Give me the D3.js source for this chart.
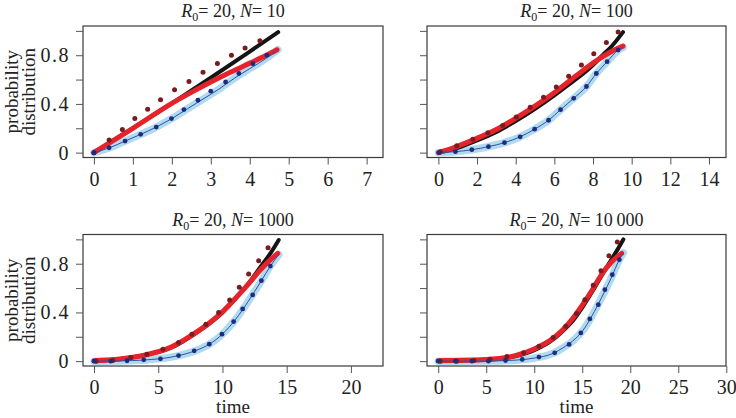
<!DOCTYPE html>
<html><head><meta charset="utf-8">
<script src="https://cdn.jsdelivr.net/npm/d3@7"></script>
<style>
html,body{margin:0;padding:0;background:#fff;}
svg text{font-family:"Liberation Serif","Times New Roman",Times,serif;fill:#222;}
</style></head>
<body><svg id="chart" width="736" height="418"></svg>
<script>
// ---- data (time, probability) ----
const titlesN = ["10", "100", "1000", "10\u2009000"];
const R0 = "20";
const xTicks = [[0,1,2,3,4,5,6,7],[0,2,4,6,8,10,12,14],[0,5,10,15,20],[0,5,10,15,20,25,30]];
const xDomains = [[-0.28,7.42],[-0.59,14.88],[-0.86,22.5],[-1.17,29.97]];
const yTicks = [0,0.2,0.4,0.6,0.8,1.0];
const yLabels = ["0","0.4","0.8"];

// N = 10
const n10Black = [[0,0],[1,0.2],[2,0.405],[3,0.615],[4,0.83],[4.73,0.99]];
const n10Red = [[0,0],[1,0.2],[2,0.405],[2.5,0.495],[3,0.58],[3.5,0.66],[4,0.735],[4.4,0.795],[4.7,0.845]];
const n10Blue = [[0,0],[0.4,0.04],[0.8,0.095],[1.2,0.15],[1.6,0.21],[2,0.28],[2.4,0.36],[2.8,0.44],[3.2,0.52],[3.6,0.61],[4,0.69],[4.4,0.77],[4.72,0.845]];
const n10RedDots = [[0,0],[0.39,0.103],[0.73,0.19],[1.05,0.28],[1.38,0.356],[1.71,0.435],[2.07,0.517],[2.44,0.585],[2.8,0.66],[3.17,0.733],[3.53,0.8],[3.88,0.86],[4.26,0.918]];
const n10BlueDots = [[0,0],[0.39,0.04],[0.8,0.095],[1.2,0.15],[1.6,0.21],[1.99,0.28],[2.31,0.354],[2.67,0.43],[3.0,0.505],[3.38,0.58],[3.72,0.65],[4.08,0.73],[4.44,0.8]];

// N = 100
const n100Black = [[0,0],[1,0.04],[2,0.1],[3,0.17],[4,0.26],[5,0.36],[6,0.47],[7,0.59],[7.5,0.65],[8,0.72],[8.5,0.8],[9,0.88],[9.55,0.99]];
const n100Red = [[0,0],[0.95,0.05],[1.99,0.117],[3,0.19],[4.03,0.285],[5.07,0.39],[6.1,0.505],[7.14,0.633],[8.18,0.755],[9.0,0.835],[9.55,0.875]];
const n100Blue = [[0,0],[0.88,0.008],[1.73,0.024],[2.59,0.049],[3.42,0.082],[4.23,0.13],[4.98,0.193],[5.7,0.266],[6.32,0.353],[7.0,0.446],[7.66,0.543],[8.17,0.65],[8.73,0.747],[9.3,0.842],[9.55,0.864]];
const n100RedDots = [[0.1,0.008],[0.95,0.057],[1.78,0.109],[2.56,0.163],[3.33,0.223],[4.03,0.293],[4.75,0.372],[5.44,0.454],[6.1,0.538],[6.74,0.628],[7.4,0.72],[8.04,0.8125],[8.69,0.905],[9.3,0.99]];
const n100BlueDots = [[0.04,0],[0.88,0.008],[1.73,0.024],[2.59,0.049],[3.42,0.082],[4.23,0.13],[4.98,0.193],[5.7,0.266],[6.32,0.353],[7.0,0.446],[7.66,0.543],[8.17,0.65],[8.73,0.747],[9.3,0.842]];

// N = 1000
const n1000Black = [[0,0.003],[2,0.018],[4,0.05],[6,0.11],[8,0.235],[9,0.31],[10,0.4],[11,0.51],[12,0.635],[13,0.78],[13.7,0.88],[14.38,0.995]];
const n1000Red = [[0,0.003],[2,0.018],[4,0.05],[6,0.115],[8,0.24],[9,0.315],[10,0.405],[11,0.515],[12,0.63],[13,0.755],[13.7,0.83],[14.3,0.885]];
const n1000Blue = [[0,0],[2,0.002],[4,0.01],[6,0.033],[8,0.09],[9,0.14],[10,0.222],[11,0.34],[12,0.49],[13,0.655],[13.73,0.781],[14.38,0.875]];
const n1000RedDots = [[0.16,0],[1.46,0.005],[2.86,0.03],[4.11,0.057],[5.36,0.098],[6.58,0.153],[7.62,0.221],[8.71,0.303],[9.7,0.399],[10.56,0.503],[11.31,0.607],[12.04,0.716],[12.82,0.825],[13.55,0.932]];
const n1000BlueDots = [[0,0],[1.3,0],[2.57,0.003],[3.87,0.011],[5.17,0.019],[6.58,0.046],[7.8,0.085],[8.97,0.139],[9.96,0.221],[10.87,0.325],[11.57,0.429],[12.35,0.544],[13.03,0.661],[13.73,0.781]];

// N = 10000
const n10000Black = [[0,0.003],[5,0.012],[8,0.04],[10,0.09],[12,0.18],[13,0.25],[14,0.33],[15,0.44],[16,0.565],[17,0.7],[18,0.83],[18.7,0.92],[19.28,1.0]];
const n10000Red = [[0,0.003],[5,0.013],[8,0.045],[10,0.1],[12,0.19],[13,0.26],[14,0.35],[15,0.46],[16,0.58],[17,0.71],[18,0.81],[19.1,0.885]];
const n10000Blue = [[0,0],[5,0.001],[8,0.008],[10,0.025],[12,0.065],[13,0.11],[14,0.165],[15,0.245],[16,0.37],[17,0.52],[18,0.68],[18.86,0.833],[19.28,0.888]];
const n10000RedDots = [[0.21,0],[1.92,0],[3.7,0.005],[5.4,0.016],[7.15,0.038],[8.89,0.068],[10.49,0.123],[11.96,0.194],[13.28,0.287],[14.4,0.391],[15.27,0.505],[16.14,0.623],[16.95,0.743],[17.78,0.866],[18.65,0.978]];
const n10000BlueDots = [[0,0],[1.78,0],[3.52,0],[5.23,0],[7.01,0.005],[8.75,0.014],[10.49,0.033],[12.13,0.068],[13.63,0.137],[14.85,0.232],[15.79,0.347],[16.67,0.464],[17.36,0.587],[18.13,0.71],[18.86,0.833]];

const panelsData = [
  {black:n10Black, red:n10Red, blue:n10Blue, redDots:n10RedDots, blueDots:n10BlueDots},
  {black:n100Black, red:n100Red, blue:n100Blue, redDots:n100RedDots, blueDots:n100BlueDots},
  {black:n1000Black, red:n1000Red, blue:n1000Blue, redDots:n1000RedDots, blueDots:n1000BlueDots},
  {black:n10000Black, red:n10000Red, blue:n10000Blue, redDots:n10000RedDots, blueDots:n10000BlueDots}
];

// ---- layout ----
const boxes = [
  {x0:83, x1:383, y0:26, y1:157.5},
  {x0:427, x1:726, y0:26, y1:157.5},
  {x0:83, x1:383, y0:234.5, y1:366},
  {x0:427, x1:726, y0:234.5, y1:366}
];
const FONT = "'Liberation Serif','Times New Roman',Times,serif";
const FS_TICK = 20, FS_TITLE = 18, FS_LAB = 19;
const svg = d3.select("#chart");
const C = {black:"#151515", red:"#e6232a", lblue:"#b0daee", dblue:"#3050a8", redDot:"#7a1c1f", blueDot:"#1d2b80", axis:"#555"};

panelsData.forEach((d,i)=>{
  const b = boxes[i];
  const x = d3.scaleLinear().domain(xDomains[i]).range([b.x0,b.x1]);
  const y = d3.scaleLinear().domain([-0.04,1.04]).range([b.y1,b.y0]);
  const g = svg.append("g");
  const line = d3.line().x(p=>x(p[0])).y(p=>y(p[1])).curve(d3.curveMonotoneX);

  g.append("path").attr("d",line(d.blue)).attr("fill","none").attr("stroke",C.lblue).attr("stroke-width",7.5).attr("stroke-linecap","round");
  g.append("path").attr("d",line(d.black)).attr("fill","none").attr("stroke",C.black).attr("stroke-width",4).attr("stroke-linecap","round");
  g.append("path").attr("d",line(d.red)).attr("fill","none").attr("stroke",C.red).attr("stroke-width",5).attr("stroke-linecap","round");
  g.append("path").attr("d",line(d.blue)).attr("fill","none").attr("stroke",C.dblue).attr("stroke-width",1);
  g.selectAll(".rd").data(d.redDots).enter().append("circle").attr("cx",p=>x(p[0])).attr("cy",p=>y(p[1])).attr("r",2.5).attr("fill",C.redDot);
  g.selectAll(".bd").data(d.blueDots).enter().append("circle").attr("cx",p=>x(p[0])).attr("cy",p=>y(p[1])).attr("r",2.4).attr("fill",C.blueDot);

  // box
  g.append("rect").attr("x",b.x0).attr("y",b.y0).attr("width",b.x1-b.x0).attr("height",b.y1-b.y0)
    .attr("fill","none").attr("stroke","#3a3a3a").attr("stroke-width",1.2);

  // x axis
  const xa = d3.axisBottom(x).tickValues(xTicks[i]).tickSize(7).tickSizeOuter(0).tickPadding(7).tickFormat(d3.format("d"));
  const gx = g.append("g").attr("transform",`translate(0,${b.y1})`).call(xa);
  gx.attr("font-family",FONT).attr("font-size",FS_TICK);
  gx.select(".domain").remove();
  gx.selectAll("line").attr("stroke",C.axis);
  gx.selectAll("text").attr("fill","#222");

  // y axis
  const ya = d3.axisLeft(y).tickValues(yTicks).tickSize(7).tickSizeOuter(0).tickPadding(6)
    .tickFormat(v => (i%2===0 && yLabels.includes(d3.format("~g")(v))) ? d3.format("~g")(v) : "");
  const gy = g.append("g").attr("transform",`translate(${b.x0},0)`).call(ya);
  gy.attr("font-family",FONT).attr("font-size",FS_TICK);
  gy.select(".domain").remove();
  gy.selectAll("line").attr("stroke",C.axis);
  gy.selectAll("text").attr("fill","#222").attr("letter-spacing",1.5);

  // title
  const t = g.append("text").attr("x",(b.x0+b.x1)/2).attr("y",b.y0-9).attr("text-anchor","middle").attr("font-size",FS_TITLE);
  t.append("tspan").attr("font-style","italic").text("R");
  t.append("tspan").attr("font-size",12).attr("dy",4).text("0");
  t.append("tspan").attr("dy",-4).text("= " + R0 + ", ");
  t.append("tspan").attr("font-style","italic").text("N");
  t.append("tspan").text("= " + titlesN[i]);

  if (i%2===0) {
    const cy = (b.y0+b.y1)/2;
    g.append("text").attr("transform",`translate(18,${cy}) rotate(-90)`).attr("text-anchor","middle").attr("font-size",FS_LAB).text("probability");
    g.append("text").attr("transform",`translate(35,${cy}) rotate(-90)`).attr("text-anchor","middle").attr("font-size",FS_LAB).text("distribution");
  }
  if (i>=2) {
    g.append("text").attr("x",(b.x0+b.x1)/2).attr("y",413).attr("text-anchor","middle").attr("font-size",FS_LAB).text("time");
  }
});
</script></body></html>
